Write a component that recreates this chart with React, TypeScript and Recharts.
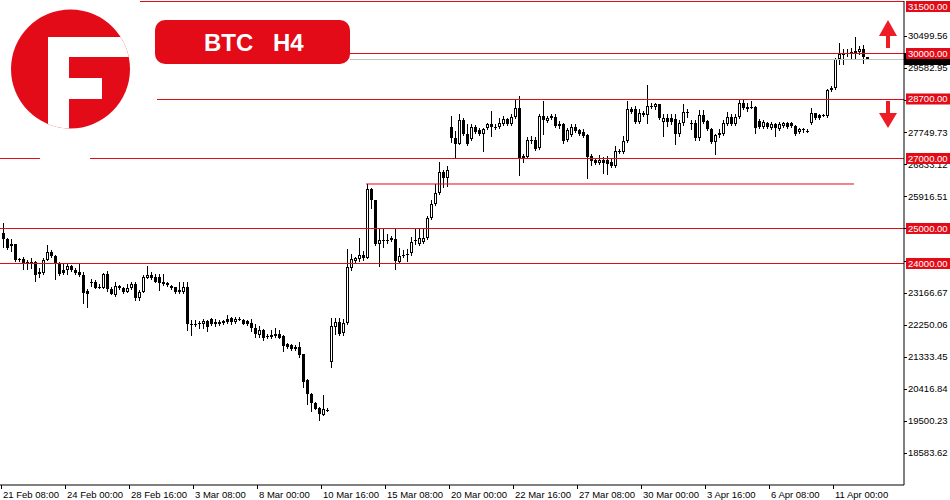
import { ComposedChart, Bar, XAxis, YAxis, ReferenceLine } from 'recharts';

// BTC H4 candles, 21 Feb - 11 Apr (weekends skipped)
const opens = [
  24870, 24700, 24500, 24557, 24129, 24129, 24043, 24043, 24043, 23757,
  23729, 24100, 24329, 24214, 24014, 23814, 23814, 23929, 23814, 23757,
  23672, 23214, 23471, 23471, 23329, 23300, 23700, 23271, 23100, 23357,
  23300, 23186, 23300, 23414, 23014, 23186, 23586, 23672, 23614, 23614,
  23471, 23443, 23357, 23329, 23243, 23186, 23329, 22271, 22271, 22300,
  22271, 22357, 22414, 22329, 22329, 22300, 22414, 22443, 22329, 22414,
  22386, 22357, 22300, 22157, 21957, 22100, 21929, 21957, 21929, 21986,
  21929, 21700, 21672, 21614, 21614, 21415, 20672, 20272, 20014, 19872,
  19672, 19815, 21186, 22186, 22329, 22014, 22300, 23872, 24071, 24129,
  24243, 24157, 26129, 25815, 24557, 24672, 24672, 24729, 24700, 24043,
  24243, 24271, 24300, 24672, 24557, 24614, 24729, 25300, 25700, 26014,
  26614, 26443, 27900, 27586, 27414, 28100, 27700, 27557, 27900, 27814,
  27700, 27872, 27986, 27900, 27900, 27986, 28129, 27986, 28186, 28443,
  27014, 27043, 27529, 27529, 27300, 28214, 28072, 28214, 28186, 27986,
  27986, 27529, 27672, 27900, 27814, 27757, 27672, 27071, 26957, 26871,
  26957, 26957, 26900, 26786, 27214, 27186, 27500, 28414, 28414, 28043,
  28300, 28243, 28500, 28472, 28557, 28043, 28157, 28157, 28129, 27700,
  28014, 28329, 28014, 28014, 27586, 28243, 28072, 27843, 27471, 27672,
  27700, 27986, 28186, 27986, 28186, 28586, 28472, 28472, 28472, 28072,
  27900, 28014, 27872, 27986, 27843, 27929, 28014, 28014, 27929, 27757,
  27843, 27786, 28014, 28300, 28243, 28243, 28214, 28957, 29014, 29843,
  29957, 30014, 30043, 30014, 30043, 30129, 29900,
];
const highs = [
  25157, 24729, 24700, 24570, 24157, 24186, 24100, 24157, 24071, 23872,
  24157, 24529, 24386, 24230, 24043, 23986, 23986, 23957, 23872, 23986,
  23757, 23271, 23557, 23529, 23414, 23729, 23786, 23329, 23471, 23386,
  23329, 23414, 23471, 23471, 23243, 23672, 23929, 23757, 23700, 23700,
  23700, 23471, 23386, 23340, 23471, 23471, 23471, 22386, 22386, 22357,
  22414, 22386, 22443, 22414, 22386, 22386, 22529, 22472, 22472, 22472,
  22414, 22386, 22414, 22271, 22214, 22129, 21986, 22100, 22157, 22100,
  21957, 21729, 21700, 21672, 21757, 21420, 20700, 20300, 20043, 19900,
  20243, 19872, 22443, 22443, 22443, 22414, 24414, 24271, 24186, 24729,
  24357, 26271, 26157, 25820, 24986, 24986, 24843, 24786, 25014, 24443,
  24386, 24414, 24757, 24986, 24986, 24986, 25357, 25815, 26271, 26900,
  26672, 26786, 28214, 27786, 28272, 28157, 27986, 27986, 27957, 27872,
  27872, 28014, 28357, 27986, 28157, 28214, 28157, 28272, 28672, 28786,
  27129, 27614, 27643, 27614, 28272, 28643, 28214, 28272, 28272, 28072,
  28014, 27872, 27986, 27986, 27843, 27843, 27700, 27129, 27014, 27100,
  27043, 27071, 27014, 27357, 27271, 27643, 28643, 28472, 28500, 28414,
  28357, 29100, 28586, 28586, 28560, 28272, 28272, 28272, 28272, 28100,
  28557, 28414, 28100, 28100, 28386, 28386, 28100, 27872, 27700, 27843,
  28100, 28329, 28272, 28272, 28672, 28672, 28586, 28643, 28500, 28129,
  28100, 28043, 28043, 28014, 28043, 28043, 28043, 28043, 27957, 27872,
  27872, 27843, 28443, 28305, 28272, 28272, 28986, 29072, 29872, 30300,
  30129, 30129, 30157, 30471, 30214, 30243, 29910,
];
const lows = [
  24472, 24414, 24357, 24071, 24071, 23843, 23843, 23872, 23500, 23614,
  23700, 24090, 24186, 23557, 23672, 23700, 23700, 23786, 23700, 23643,
  22872, 22757, 23357, 23290, 23300, 23290, 23214, 23129, 23072, 23271,
  23157, 23180, 23271, 22957, 22957, 23180, 23580, 23557, 23471, 23243,
  23386, 23357, 23271, 23157, 23157, 23157, 22100, 21957, 22214, 22157,
  22157, 22072, 22243, 22214, 22243, 22271, 22300, 22271, 22300, 22386,
  22260, 22243, 22072, 21900, 21900, 21815, 21872, 21872, 21900, 21872,
  21500, 21586, 21529, 21529, 21329, 20472, 19986, 19786, 19843, 19529,
  19660, 19786, 21043, 21986, 21957, 21957, 22271, 23814, 24014, 24071,
  24100, 24150, 25586, 24529, 23929, 24472, 24586, 24643, 23843, 24014,
  24186, 24071, 24243, 24557, 24529, 24586, 24700, 25272, 25672, 25986,
  26186, 26214, 27471, 27043, 27410, 27672, 27386, 27529, 27729, 27672,
  27214, 27843, 27643, 27843, 27872, 27957, 27957, 27957, 28157, 26529,
  26900, 27014, 27443, 27243, 27271, 27700, 28043, 28129, 27900, 27872,
  27443, 27500, 27643, 27757, 27672, 27614, 26443, 26814, 26843, 26843,
  26586, 26557, 26757, 26757, 27157, 27157, 27471, 28300, 28014, 28014,
  28214, 28014, 28443, 28414, 28129, 27643, 27929, 27986, 27414, 27643,
  27957, 28186, 27843, 27529, 27529, 28014, 27814, 27443, 27129, 27614,
  27672, 27957, 27957, 27957, 28157, 28414, 28357, 28443, 27729, 27872,
  27872, 27872, 27843, 27643, 27814, 27900, 27872, 27900, 27672, 27729,
  27757, 27757, 27986, 28129, 28129, 28214, 28186, 28929, 28986, 29700,
  29700, 29929, 29872, 29843, 29986, 29729, 29843,
];
const closes = [
  24700, 24443, 24557, 24100, 24100, 24014, 24030, 24050, 23672, 23700,
  24100, 24329, 24214, 24014, 23700, 23729, 23929, 23814, 23729, 23672,
  23157, 23129, 23460, 23300, 23320, 23700, 23271, 23140, 23357, 23300,
  23186, 23300, 23414, 23014, 23186, 23614, 23672, 23586, 23480, 23443,
  23414, 23386, 23300, 23186, 23186, 23329, 22271, 22260, 22265, 22271,
  22357, 22186, 22271, 22271, 22271, 22357, 22329, 22329, 22414, 22405,
  22271, 22271, 22157, 21986, 22100, 21872, 21920, 21900, 21986, 21880,
  21643, 21614, 21557, 21557, 21386, 20615, 20272, 20014, 19850, 19700,
  19843, 19810, 22214, 22329, 21986, 22300, 23900, 24129, 24157, 24243,
  24157, 26129, 25815, 24557, 24672, 24665, 24668, 24672, 24071, 24214,
  24235, 24265, 24614, 24665, 24729, 24729, 25300, 25700, 26014, 26614,
  26443, 26672, 27586, 27414, 28100, 27700, 27414, 27900, 27757, 27700,
  27843, 27986, 27900, 27895, 28014, 28129, 27986, 28186, 28443, 27014,
  27071, 27529, 27520, 27271, 28214, 28100, 28157, 28157, 27929, 27929,
  27500, 27814, 27900, 27786, 27700, 27643, 27043, 26929, 26871, 26957,
  26871, 26843, 26786, 27214, 27205, 27500, 28414, 28329, 28043, 28300,
  28243, 28500, 28495, 28557, 28157, 28157, 28043, 28043, 27700, 28014,
  28329, 28320, 27986, 27586, 28243, 28043, 27843, 27471, 27672, 27729,
  28014, 28186, 27986, 28186, 28586, 28443, 28414, 28465, 27872, 27900,
  28043, 27900, 27986, 27872, 27986, 28014, 27900, 27929, 27700, 27843,
  27835, 27780, 28300, 28157, 28157, 28235, 28957, 29014, 29843, 29986,
  30014, 30010, 30035, 30071, 30129, 29900, 29850,
];

const tickLabels = [
  '21 Feb 08:00', '24 Feb 00:00', '28 Feb 16:00', '3 Mar 08:00', '8 Mar 00:00',
  '10 Mar 16:00', '15 Mar 08:00', '20 Mar 00:00', '22 Mar 16:00', '27 Mar 08:00',
  '30 Mar 00:00', '3 Apr 16:00', '6 Apr 08:00', '11 Apr 00:00',
];
const priceTicks = [
  18583.62, 19500.23, 20416.84, 21333.45, 22250.06, 23166.67, 24083.28, 24999.9,
  25916.51, 26833.12, 27749.73, 28666.34, 29582.95, 30499.56,
];
const levels = [31500, 30000, 28700, 27000, 25000, 24000];
const bidPrice = 29850;
const swingHigh = 26271;

const RED = '#e30b17';
const SLOTS = 226; // chart shift: empty room right of the last candle
const lineStart: Record<number, number> = { 31500: 140, 30000: 350, 28700: 157, 29850: 350 };

const data = Array.from({ length: SLOTS }, (_, i) =>
  i < opens.length
    ? { idx: i, open: opens[i], high: highs[i], low: lows[i], close: closes[i], range: [lows[i], highs[i]] }
    : { idx: i }
);
const xTicks = tickLabels.map((_, k) => k * 16);
// level labels go last so they paint over the plain price labels
const yTicks = [...priceTicks, bidPrice, ...levels];

function Candle(props: any) {
  const { x, y, width, height, payload } = props;
  if (!payload || payload.high == null) return null;
  const top = Math.min(y, y + height);
  const bottom = Math.max(y, y + height);
  const span = payload.high - payload.low;
  const k = span > 0 ? (bottom - top) / span : 0;
  const py = (v: number) => Math.round(top + (payload.high - v) * k);
  const c = Math.round(x + width / 2);
  const yo = py(payload.open);
  const yc = py(payload.close);
  const bt = Math.min(yo, yc);
  const bb = Math.max(yo, yc);
  const up = payload.close >= payload.open;
  return (
    <g shapeRendering="crispEdges">
      <line x1={c + 0.5} x2={c + 0.5} y1={Math.round(top)} y2={Math.round(bottom) + 1} stroke="#000" />
      {up && bb - bt >= 2 ? (
        <rect x={c - 0.5} y={bt + 0.5} width={2} height={bb - bt - 1} fill="#fff" stroke="#000" />
      ) : (
        <rect x={c - 1} y={bt} width={3} height={Math.max(1, bb - bt)} fill="#000" />
      )}
    </g>
  );
}

function PriceTick(props: any) {
  const { x, y, payload } = props;
  const v = payload.value;
  if (v === bidPrice) {
    return <rect x={x} y={Math.round(y) - 6} width={46} height={12} fill="#000" />;
  }
  if (levels.includes(v)) {
    const ly = Math.max(y, 6.5);
    return (
      <g>
        <rect x={x + 2} y={ly - 5.5} width={44} height={11} fill={RED} />
        <text x={x + 4} y={ly} dy="0.35em" fontSize={9.5} fill="#fff">
          {v.toFixed(2)}
        </text>
      </g>
    );
  }
  const yy = Math.round(y) + 0.5;
  return (
    <g>
      <line x1={x} x2={x + 3} y1={yy} y2={yy} stroke="#000" />
      <text x={x + 4} y={y} dy="0.35em" fontSize={9.5} fill="#000">
        {v.toFixed(2)}
      </text>
    </g>
  );
}

function TimeTick(props: any) {
  const { x, y, payload } = props;
  const label = tickLabels[payload.value / 16];
  if (!label) return null;
  return (
    <g>
      <line x1={x - 0.5} x2={x - 0.5} y1={y} y2={y + 4} stroke="#000" />
      <text x={x + 1} y={y + 10} dy="0.35em" fontSize={9.5} fill="#000">
        {label}
      </text>
    </g>
  );
}

function levelLine(value: number, color: string) {
  return (p: any) => {
    const y = Math.round(p.y1) + 0.5;
    const left = lineStart[value] ?? Math.min(p.x1, p.x2);
    const right = Math.max(p.x1, p.x2);
    return <line x1={left} x2={right} y1={y} y2={y} stroke={color} strokeWidth={1} />;
  };
}

export default function App() {
  return (
    <div style={{ position: 'absolute', left: 0, top: 0, width: 950, height: 500, background: '#fff', fontFamily: '"Liberation Sans", Arial, sans-serif' }}>
      <ComposedChart width={950} height={500} data={data} margin={{ top: 1, right: 0, bottom: 0, left: 0 }}>
        <XAxis
          dataKey="idx"
          type="category"
          ticks={xTicks}
          interval={0}
          height={15}
          tickSize={0}
          tickMargin={0}
          tickLine={false}
          axisLine={{ stroke: '#000' }}
          tick={<TimeTick />}
        />
        <YAxis
          orientation="right"
          type="number"
          domain={[17670, 31500]}
          allowDataOverflow
          ticks={yTicks}
          interval={0}
          width={46}
          tickSize={0}
          tickMargin={0}
          tickLine={false}
          axisLine={{ stroke: '#000' }}
          tick={<PriceTick />}
        />
        <ReferenceLine y={bidPrice} shape={levelLine(bidPrice, '#c0c0c0')} />
        {levels.map((v) => (
          <ReferenceLine key={v} y={v} shape={levelLine(v, RED)} />
        ))}
        <ReferenceLine
          segment={[{ x: 91, y: swingHigh }, { x: 213, y: swingHigh }]}
          stroke={RED}
        />
        <Bar dataKey="range" barSize={3} shape={<Candle />} isAnimationActive={false} />
      </ComposedChart>

      <svg width={950} height={500} style={{ position: 'absolute', left: 0, top: 0, pointerEvents: 'none' }}>
        <defs>
          <clipPath id="logoClip">
            <circle cx={70.5} cy={69} r={59.5} />
          </clipPath>
        </defs>
        <rect x={40} y={154} width={50} height={10} fill="#fff" />
        <circle cx={70.5} cy={69} r={59.5} fill={RED} />
        <g clipPath="url(#logoClip)" fill="#fff">
          <rect x={48} y={37} width={21} height={100} />
          <rect x={48} y={37} width={95} height={20} />
          <rect x={48} y={78} width={54} height={21} />
        </g>
        <rect x={155} y={20} width={195} height={44} rx={10} fill={RED} />
        <text x={204} y={51} fontSize={24} fontWeight="bold" fill="#fff">BTC</text>
        <text x={273} y={51} fontSize={24} fontWeight="bold" fill="#fff">H4</text>
        <polygon points="888,20 879,36 897,36" fill="#ee1c25" />
        <rect x={886} y={36} width={4} height={12} fill="#ee1c25" />
        <rect x={886} y={101} width={4} height={12} fill="#ee1c25" />
        <polygon points="879,113 897,113 888,128" fill="#ee1c25" />
      </svg>
    </div>
  );
}
